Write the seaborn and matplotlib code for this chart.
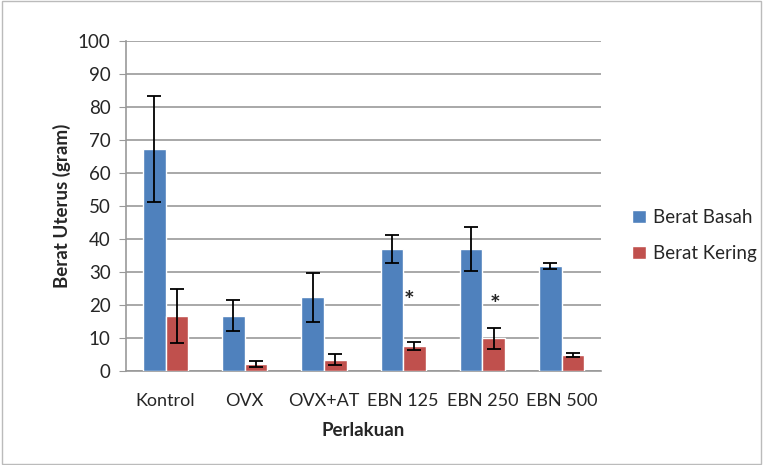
import pandas as pd
import numpy as np
import matplotlib.pyplot as plt
import seaborn as sns

# data
perlakuan = ["Kontrol", "OVX", "OVX+AT", "EBN 125", "EBN 250", "EBN 500"]
berat_basah = [67.2, 16.8, 22.3, 36.9, 36.9, 31.8]
sd_basah = [16.0, 4.6, 7.4, 4.2, 6.6, 1.0]
berat_kering = [16.7, 2.2, 3.5, 7.5, 9.9, 4.9]
sd_kering = [8.2, 0.9, 1.7, 1.2, 3.2, 0.6]
tanda = ["", "", "", "*", "*", ""]
tanda_y = [0, 0, 0, 21, 20, 0]
tanda_dx = [0, 0, 0, 0.08, 0.16, 0]

sns.set_style("white")
plt.rcParams["font.family"] = ["Lato", "DejaVu Sans"]
fs = 13

df = pd.DataFrame({
    "Perlakuan": perlakuan * 2,
    "Nilai": berat_basah + berat_kering,
    "SD": sd_basah + sd_kering,
    "Jenis": ["Berat Basah"] * 6 + ["Berat Kering"] * 6,
})

fig = plt.figure(figsize=(7.63, 4.65), dpi=100)
ax = fig.add_axes([0.165, 0.202, 0.623, 0.71])

sns.barplot(data=df, x="Perlakuan", y="Nilai", hue="Jenis",
            palette=["#4F81BD", "#C0504D"], errorbar=None,
            width=0.57, saturation=1, ax=ax, zorder=3)

# error bars on top of each bar
bars = ax.patches[:12]
for p, sd in zip(bars, df["SD"]):
    xc = p.get_x() + p.get_width() / 2
    ax.errorbar(xc, p.get_height(), yerr=sd, color="black", lw=1.3,
                capsize=5, capthick=1.3, zorder=4)

# significance marks
for i, t in enumerate(tanda):
    if t:
        ax.text(i + tanda_dx[i], tanda_y[i], t, ha="center", va="center",
                fontsize=18, fontweight="bold")

ax.set_ylim(0, 100)
ax.set_xlim(-0.5, 5.5)
ax.set_yticks(range(0, 101, 10))
ax.yaxis.grid(True, color="#999999", lw=1.2, zorder=0)
ax.set_axisbelow(True)
for s in ["top", "right"]:
    ax.spines[s].set_visible(False)
ax.spines["left"].set_color("#999999")
ax.spines["bottom"].set_color("#999999")
ax.spines["left"].set_linewidth(1.2)
ax.spines["bottom"].set_linewidth(1.2)
ax.tick_params(axis="y", left=True, length=5, color="#999999", labelsize=13.5, pad=6)
ax.tick_params(axis="x", bottom=False, labelsize=fs, pad=12)

ax.set_xlabel("Perlakuan", fontsize=13.5, fontweight="bold", labelpad=10)
ax.set_ylabel("Berat Uterus (gram)", fontsize=13.5, fontweight="bold", labelpad=5)

ax.legend(loc="center left", bbox_to_anchor=(1.03, 0.41), frameon=False,
          fontsize=13.5, handlelength=0.7, handleheight=0.7,
          handletextpad=0.4, labelspacing=1.0)

# outer border like the original
fig.patches.append(plt.Rectangle((0.002, 0.003), 0.996, 0.994,
                                 transform=fig.transFigure, fill=False,
                                 edgecolor="#BBBBBB", lw=1))

plt.savefig("out.png", dpi=100)
